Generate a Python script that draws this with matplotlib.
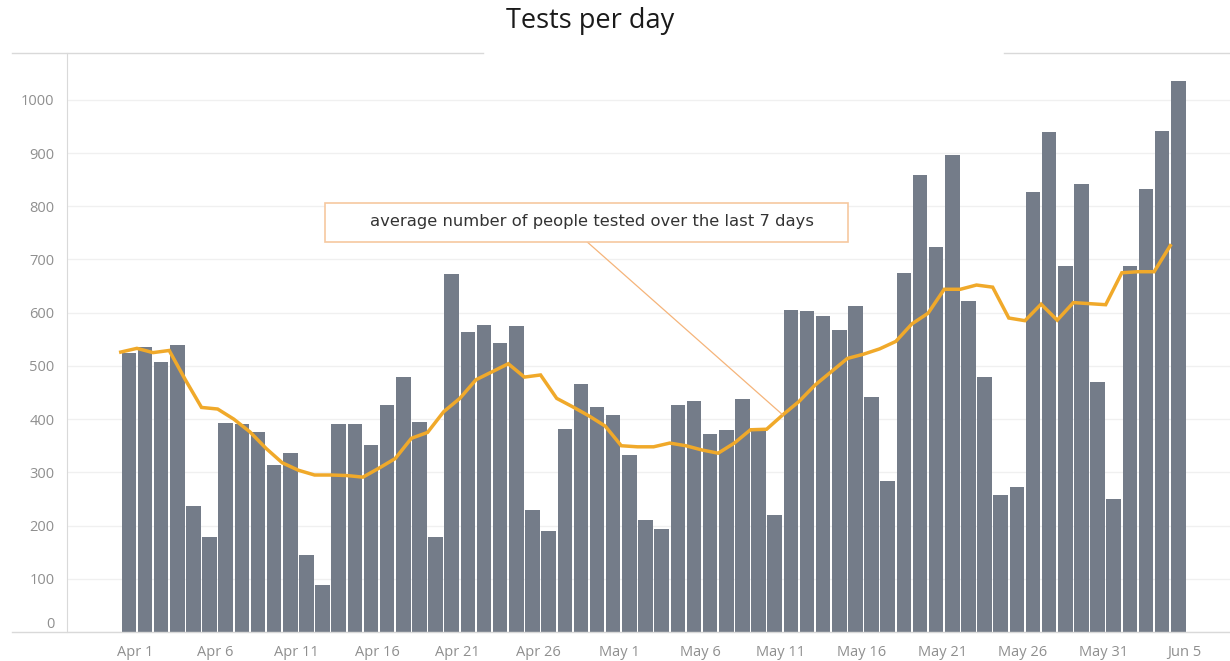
import matplotlib
matplotlib.use('Agg')
from matplotlib import pyplot as plt
from matplotlib.lines import Line2D
from matplotlib.patches import Rectangle
import matplotlib.transforms as mtransforms
import numpy as np

plt.rcParams['font.family'] = ['Open Sans', 'DejaVu Sans']

# tests per day, Apr 1 .. Jun 5
april = [524, 536, 507, 539, 237, 179, 393, 391, 375, 313,
         337, 145, 89, 390, 390, 352, 426, 480, 395, 178,
         673, 563, 577, 543, 575, 229, 189, 381, 466, 423]
may = [407, 332, 210, 194, 427, 434, 373, 380, 437, 383,
       220, 605, 603, 594, 568, 613, 441, 284, 675, 858,
       724, 897, 622, 479, 257, 273, 827, 940, 687, 842,
       470]
june = [249, 687, 832, 942, 1036]
tests = april + may + june

# 7 day average
avg_april = [526, 533, 525, 529, 474, 422, 419, 400, 376, 345,
             318, 304, 295, 295, 294, 291, 308, 326, 364, 375,
             414, 439, 474, 489, 504, 479, 483, 439, 423, 406]
avg_may = [387, 350, 348, 348, 355, 350, 342, 336, 355, 380,
           381, 408, 433, 464, 489, 514, 522, 532, 546, 579,
           599, 644, 644, 652, 648, 590, 585, 616, 586, 619,
           617]
avg_june = [615, 675, 677, 677, 726]
avg7 = avg_april + avg_may + avg_june

tick_labels = ['Apr 1', 'Apr 6', 'Apr 11', 'Apr 16', 'Apr 21', 'Apr 26', 'May 1',
               'May 6', 'May 11', 'May 16', 'May 21', 'May 26', 'May 31', 'Jun 5']
note = 'average number of people tested over the last 7 days'

W, H = 1230, 661
fig = plt.figure(figsize=(W / 100, H / 100), dpi=100)
ax = fig.add_axes([67 / W, (H - 632) / H, (W - 67) / W, (632 - 53) / H])

x = np.arange(len(tests))
ax.bar(x, tests, width=0.9, color='#747c89', zorder=2)
ax.plot(x - 0.5, avg7, color='#f0a92a', lw=2.5, zorder=3, solid_joinstyle='miter')

ax.set_xlim(-3.83, 68.2)
ax.set_ylim(0, 1088)
ax.set_yticks(range(0, 1001, 100))
ax.yaxis.grid(True, color='#f0f0f0', lw=1, zorder=0)
ax.set_xticks(x[::5])
ax.set_xticklabels(tick_labels)
ax.tick_params(axis='both', length=0, labelsize=10.5, colors='#8f8f8f')
ax.tick_params(axis='y', pad=9)
ax.tick_params(axis='x', pad=9.5)
for s in ['top', 'right', 'bottom']:
    ax.spines[s].set_visible(False)
ax.spines['left'].set_color('#d9d9d9')

# tick labels sit a bit right of the bars, and 0 is lifted off the axis
shift = mtransforms.ScaledTranslation(6 / 100, 0, fig.dpi_scale_trans)
for lab in ax.get_xticklabels():
    lab.set_transform(lab.get_transform() + shift)
lift = mtransforms.ScaledTranslation(0, 10 / 100, fig.dpi_scale_trans)
ylabs = ax.get_yticklabels()
ylabs[0].set_transform(ylabs[0].get_transform() + lift)

# frame lines (top one is broken by the title)
fig.add_artist(Line2D([12 / W, 1], [(H - 632) / H] * 2, color='#d9d9d9', lw=1))
fig.add_artist(Line2D([12 / W, 483 / W], [(H - 53) / H] * 2, color='#d9d9d9', lw=1))
fig.add_artist(Line2D([1004 / W, 1], [(H - 53) / H] * 2, color='#d9d9d9', lw=1))

fig.text(590 / W, (H - 21) / H, 'Tests per day', ha='center', va='center',
         fontsize=19.5, color='#1a1a1a')

# annotation box
fig.add_artist(Rectangle((325 / W, (H - 241.5) / H), 523 / W, 39 / H,
                         transform=fig.transFigure, facecolor='white',
                         edgecolor='#f6c8a0', lw=1.2, zorder=5))
fig.text(592 / W, (H - 222) / H, note, ha='center', va='center',
         fontsize=11.8, color='#333333', family=['DejaVu Sans'], zorder=6)
ax.annotate('', xy=(41 - 0.5, avg7[41]), xycoords='data',
            xytext=(586.7, H - 241.5), textcoords='figure pixels',
            arrowprops=dict(arrowstyle='-', color='#f5b47a', lw=0.9,
                            shrinkA=0, shrinkB=0), zorder=4)

fig.savefig('out.png', dpi=100)
